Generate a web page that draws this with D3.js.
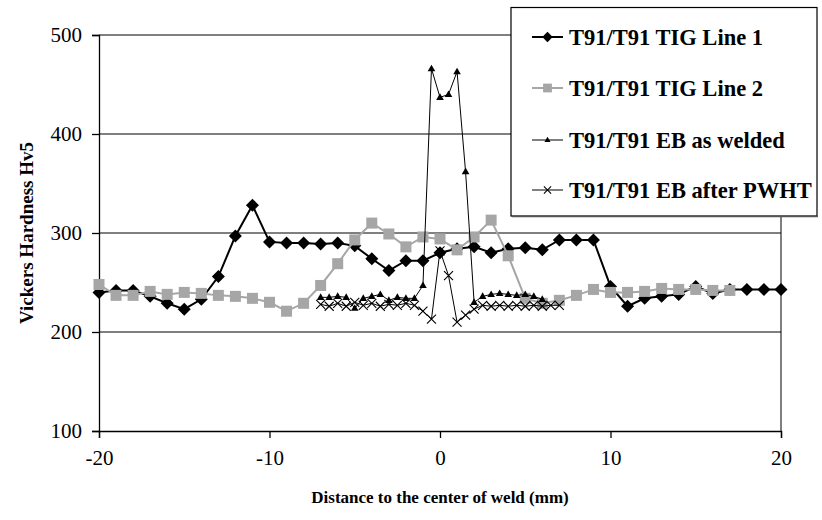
<!DOCTYPE html>
<html>
<head>
<meta charset="utf-8">
<script src="https://cdn.jsdelivr.net/npm/d3@7"></script>
<style>
  html, body { margin: 0; padding: 0; background: #fff; }
  svg { display: block; font-family: "Liberation Serif", "Times New Roman", serif; }
</style>
</head>
<body>
<svg id="chart" width="822" height="520"></svg>
<script>
// ---- data ----
const tig1X = [-20,-19,-18,-17,-16,-15,-14,-13,-12,-11,-10,-9,-8,-7,-6,-5,-4,-3,-2,-1,0,1,2,3,4,5,6,7,8,9,10,11,12,13,14,15,16,17,18,19,20];
const tig1Y = [240,242,242,236,229,223,233,256,297,328,291,290,290,289,290,287,274,262,272,272,280,284,286,280,284,285,283,293,293,293,246,226,234,236,238,246,239,243,243,243,243];

const tig2X = [-20,-19,-18,-17,-16,-15,-14,-13,-12,-11,-10,-9,-8,-7,-6,-5,-4,-3,-2,-1,0,1,2,3,4,5,6,7,8,9,10,11,12,13,14,15,16,17];
const tig2Y = [248,237,237,241,238,240,239,237,236,234,230,221,229,247,269,293,310,299,286,296,294,283,296,313,277,234,229,232,237,243,240,240,241,244,243,243,242,242];

const ebX = [-7,-6.5,-6,-5.5,-5,-4.5,-4,-3.5,-3,-2.5,-2,-1.5,-1,-0.5,0,0.5,1,1.5,2,2.5,3,3.5,4,4.5,5,5.5,6];
const ebY = [235,235,236,235,224,234,236,238,232,235,234,234,247,466,437,440,463,362,230,236,238,239,238,237,238,236,233];

const pwhtX = [-7,-6.5,-6,-5.5,-5,-4.5,-4,-3.5,-3,-2.5,-2,-1.5,-1,-0.5,0,0.5,1,1.5,2,2.5,3,3.5,4,4.5,5,5.5,6,6.5,7];
const pwhtY = [228,226,229,226,230,227,229,226,228,227,229,227,221,213,282,257,210,217,223,227,226,227,226,227,226,227,226,227,227];

const seriesNames = ['T91/T91 TIG Line 1', 'T91/T91 TIG Line 2', 'T91/T91 EB as welded', 'T91/T91 EB after PWHT'];
const xTicks = [-20, -10, 0, 10, 20];
const yTicks = [100, 200, 300, 400, 500];

const series = [
  { name: seriesNames[0], xs: tig1X, ys: tig1Y, color: '#000', width: 2, marker: 'diamond' },
  { name: seriesNames[1], xs: tig2X, ys: tig2Y, color: '#a6a6a6', width: 2, marker: 'square' },
  { name: seriesNames[2], xs: ebX, ys: ebY, color: '#000', width: 1, marker: 'triangle' },
  { name: seriesNames[3], xs: pwhtX, ys: pwhtY, color: '#000', width: 1, marker: 'cross' }
];

// ---- layout ----
const svg = d3.select('#chart');
const plot = { left: 99, right: 781, top: 35, bottom: 431 };

const x = d3.scaleLinear().domain([-20, 20]).range([plot.left, plot.right]);
const y = d3.scaleLinear().domain([100, 500]).range([plot.bottom, plot.top]);

// gridlines
svg.append('g')
  .selectAll('line')
  .data(yTicks.filter(d => d > 100))
  .join('line')
  .attr('x1', plot.left).attr('x2', plot.right)
  .attr('y1', d => y(d)).attr('y2', d => y(d))
  .attr('stroke', '#000').attr('stroke-width', 1);

// plot frame (right side)
svg.append('line')
  .attr('x1', plot.right).attr('x2', plot.right)
  .attr('y1', plot.top).attr('y2', plot.bottom)
  .attr('stroke', '#000').attr('stroke-width', 1);

// axes (plain hyphen for negatives, like the original)
const yAxis = svg.append('g')
  .attr('transform', `translate(${plot.left},0)`)
  .call(d3.axisLeft(y).tickValues(yTicks).tickSize(7).tickPadding(10).tickFormat(d => String(d)));
const xAxis = svg.append('g')
  .attr('transform', `translate(0,${plot.bottom})`)
  .call(d3.axisBottom(x).tickValues(xTicks).tickSize(7).tickPadding(12).tickFormat(d => String(d)));

[xAxis, yAxis].forEach(a => {
  a.select('.domain').attr('stroke', '#000').attr('stroke-width', 1.3);
  a.selectAll('.tick line').attr('stroke', '#000').attr('stroke-width', 1.3);
  a.selectAll('.tick text')
    .attr('font-family', '"Liberation Serif", serif')
    .attr('font-size', 21)
    .attr('fill', '#000');
});

// axis titles
svg.append('text')
  .attr('x', (plot.left + plot.right) / 2)
  .attr('y', 503)
  .attr('text-anchor', 'middle')
  .attr('font-weight', 'bold')
  .attr('font-size', 17)
  .text('Distance to the center of weld (mm)');

svg.append('text')
  .attr('transform', `translate(33,${(plot.top + plot.bottom) / 2}) rotate(-90)`)
  .attr('text-anchor', 'middle')
  .attr('font-weight', 'bold')
  .attr('font-size', 19)
  .text('Vickers Hardness Hv5');

// ---- markers ----
function drawMarker(sel, kind, color, k) {
  k = k || 1;
  if (kind === 'diamond') {
    sel.append('path').attr('d', `M0,${-6.5 * k}L${6.5 * k},0L0,${6.5 * k}L${-6.5 * k},0Z`).attr('fill', color);
  } else if (kind === 'square') {
    sel.append('rect').attr('x', -5.5 * k).attr('y', -5.5 * k)
      .attr('width', 11 * k).attr('height', 11 * k).attr('fill', color);
  } else if (kind === 'triangle') {
    sel.append('path').attr('d', `M0,${-4 * k}L${3.8 * k},${2.6 * k}L${-3.8 * k},${2.6 * k}Z`).attr('fill', color);
  } else if (kind === 'cross') {
    sel.append('path').attr('d', `M${-4.5 * k},${-4.5 * k}L${4.5 * k},${4.5 * k}M${-4.5 * k},${4.5 * k}L${4.5 * k},${-4.5 * k}`)
      .attr('stroke', color).attr('stroke-width', 1.1).attr('fill', 'none');
  }
}

const line = d3.line().x(d => x(d[0])).y(d => y(d[1]));

series.forEach(s => {
  const pts = s.xs.map((v, i) => [v, s.ys[i]]);
  const g = svg.append('g');
  g.append('path')
    .datum(pts)
    .attr('fill', 'none')
    .attr('stroke', s.color)
    .attr('stroke-width', s.width)
    .attr('d', line);
  g.selectAll('g.pt')
    .data(pts)
    .join('g')
    .attr('class', 'pt')
    .attr('transform', d => `translate(${x(d[0])},${y(d[1])})`)
    .each(function () { drawMarker(d3.select(this), s.marker, s.color); });
});

// ---- legend ----
const lg = svg.append('g');
lg.append('rect')
  .attr('x', 511).attr('y', 7.5).attr('width', 306).attr('height', 208.5)
  .attr('fill', '#fff').attr('stroke', '#000').attr('stroke-width', 1.2);
lg.append('line')
  .attr('x1', 512).attr('x2', 818).attr('y1', 216.5).attr('y2', 216.5)
  .attr('stroke', '#555').attr('stroke-width', 1.5);

const legendRows = [37, 88, 140, 190];
series.forEach((s, i) => {
  const row = lg.append('g').attr('transform', `translate(0,${legendRows[i]})`);
  row.append('line')
    .attr('x1', 532).attr('x2', 563)
    .attr('stroke', s.color).attr('stroke-width', s.width);
  const m = row.append('g').attr('transform', 'translate(547.5,0)');
  drawMarker(m, s.marker, s.color, 0.8);
  row.append('text')
    .attr('x', 569).attr('y', 0).attr('dy', '0.35em')
    .attr('font-weight', 'bold')
    .attr('font-size', 22.5)
    .text(s.name);
});
</script>
</body>
</html>
